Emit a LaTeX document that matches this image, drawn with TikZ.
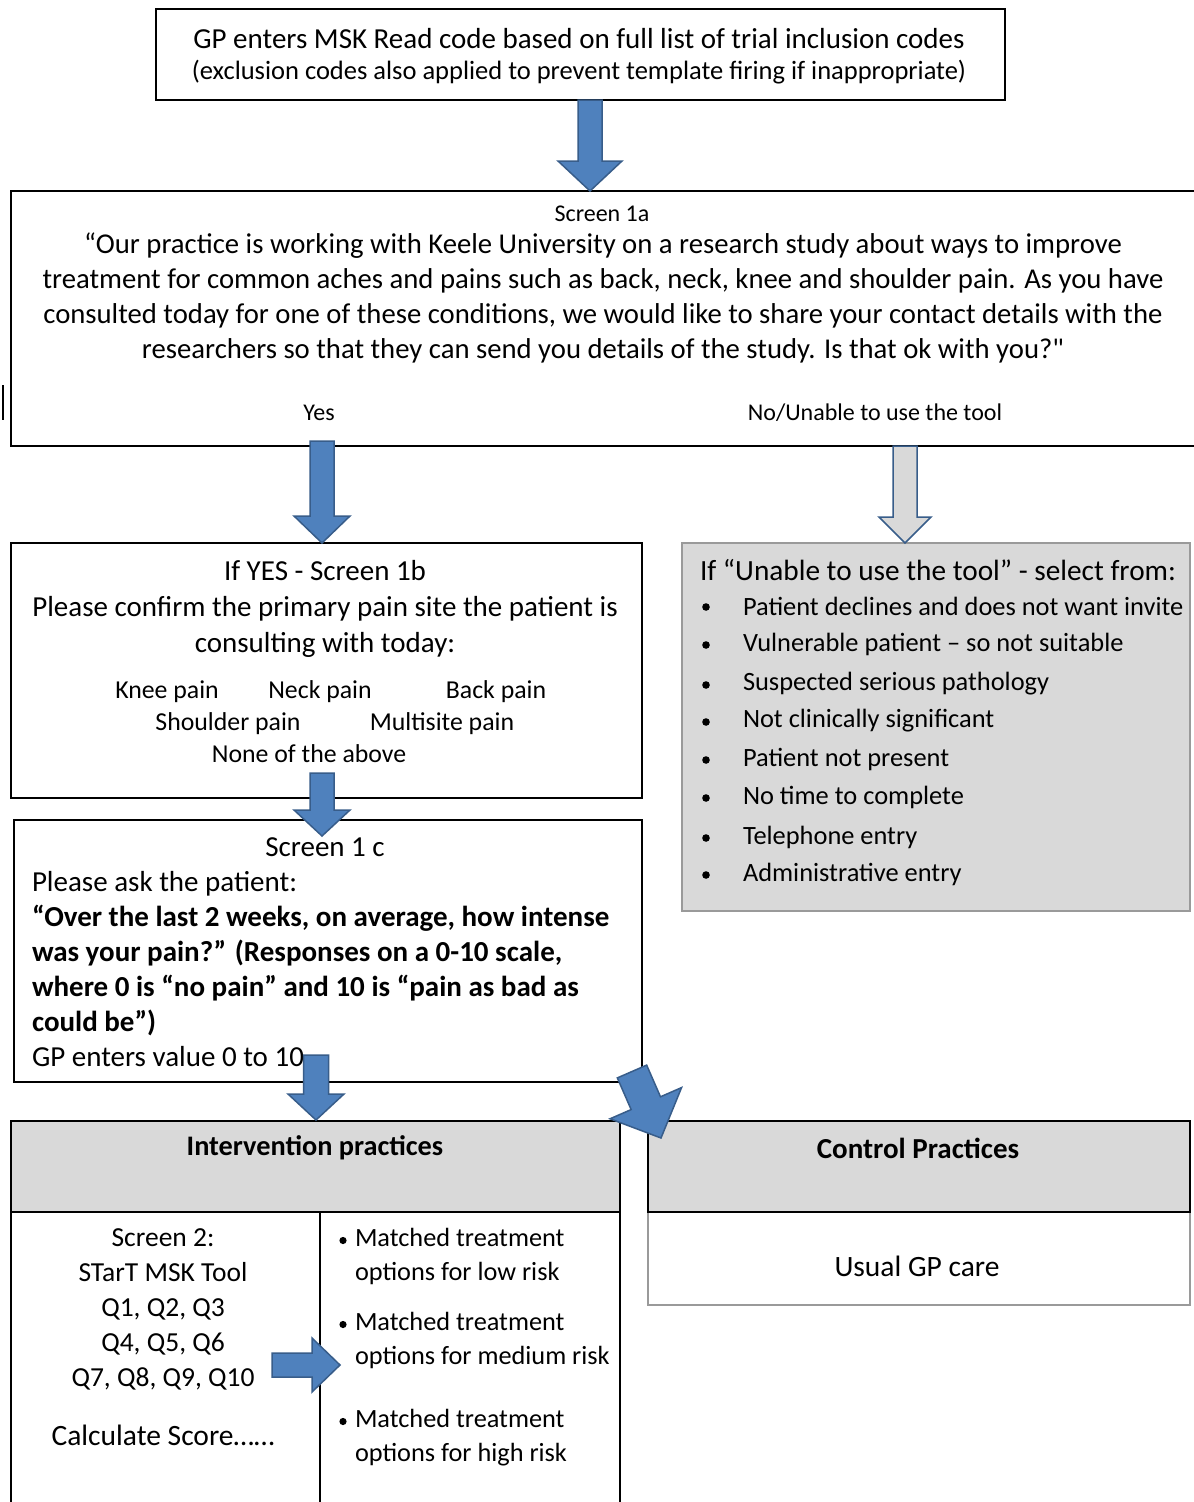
\documentclass[tikz,border=0pt]{standalone}
\usepackage{fontspec}
\setmainfont{Carlito}
\usetikzlibrary{calc}
\definecolor{ablue}{HTML}{4F81BD}
\definecolor{adark}{HTML}{385D8A}
\definecolor{lgray}{HTML}{D9D9D9}
\definecolor{bgray}{HTML}{9A9A9A}
\newcommand\fs[2]{\fontsize{#1}{#2}\selectfont}
% block arrow: style, from, to, shaft half width, head half width, head length
\newcommand\blockarr[6]{%
  \coordinate (ba-c) at ($(#3)!#6!(#2)$);
  \draw[#1] ($(#2)!#4!90:(#3)$) -- ($(ba-c)!#4!-90:(#2)$) -- ($(ba-c)!#5!-90:(#2)$)
    -- (#3) -- ($(ba-c)!#5!90:(#2)$) -- ($(ba-c)!#4!90:(#2)$) -- ($(#2)!#4!-90:(#3)$) -- cycle;
}
\begin{document}
\begin{tikzpicture}[x=1pt,y=-1pt,
  box/.style={draw=black, line width=2.2pt, inner sep=0pt, outer sep=0pt, rectangle},
  gbox/.style={box, draw=bgray, fill=lgray},
  hbox/.style={box, fill=lgray},
  txt/.style={inner sep=0pt, outer sep=0pt, align=center},
  ltxt/.style={inner sep=0pt, outer sep=0pt, align=left, anchor=west},
  barrow/.style={fill=ablue, draw=adark, line width=1.5pt, line join=miter},
  garrow/.style={fill=lgray, draw=adark, line width=1.5pt, line join=miter}]
\useasboundingbox (0,0) rectangle (1194,1502);
\clip (0,0) rectangle (1194,1502);
\fill[white] (0,0) rectangle (1194,1502);

% boxes
\node[box, line width=2.6pt, minimum width=849pt, minimum height=91pt] (top) at (580.5,54.5) {};
\node[box, minimum width=1194pt, minimum height=255pt] (s1a) at (608,318.5) {};
\node[box, minimum width=631pt, minimum height=255pt] (s1b) at (326.5,670.5) {};
\node[gbox, minimum width=508pt, minimum height=368pt] (unable) at (936,727) {};
\node[box, minimum width=628pt, minimum height=262pt] (s1c) at (328,951) {};
\node[box, minimum width=609pt, minimum height=298pt] (intbody) at (315.5,1361) {};
\node[hbox, minimum width=609pt, minimum height=91pt] (inthead) at (315.5,1166.5) {};
\node[box, draw=bgray, minimum width=542pt, minimum height=93pt] (ctrlbody) at (919,1258.5) {};
\node[hbox, minimum width=542pt, minimum height=91pt] (ctrlhead) at (919,1166.5) {};
\draw[line width=2.2pt] ($(intbody.north west)+(309,0)$) coordinate (divtop) -- ($(intbody.south west)+(309,0)$) coordinate (divbot);
\draw[line width=1.5pt] (3,385) -- (3,420);

% texts
\node[txt, font=\fs{29}{34}] (toptxt1) at (579,39) {GP enters MSK Read code based on full list of trial inclusion codes};
\node[txt, font=\fs{26.5}{34}] (toptxt2) at (579,72) {(exclusion codes also applied to prevent template firing if inappropriate)};
\node[txt, font=\fs{24}{24}] (s1alab) at (602,214) {Screen 1a};
\node[txt, font=\fs{28.7}{35}] (quote) at (603,298) {“Our practice is working with Keele University on a research study about ways to improve\\
treatment for common aches and pains such as back, neck, knee and shoulder pain. As you have\\
consulted today for one of these conditions, we would like to share your contact details with the\\
researchers so that they can send you details of the study. Is that ok with you?{\addfontfeature{Ligatures=TeXOff}"}};
\node[txt, font=\fs{24}{24}] (yes) at (319,413) {Yes};
\node[txt, font=\fs{24}{24}] (no) at (875,413) {No/Unable to use the tool};

\node[txt, font=\fs{29}{36}] (s1btxt) at (325,609) {If YES - Screen 1b\\Please confirm the primary pain site the patient is\\consulting with today:};
\node[txt, font=\fs{25.8}{30}] (knee) at (167,692) {Knee pain};
\node[txt, font=\fs{25.8}{30}] (neck) at (320,692) {Neck pain};
\node[txt, font=\fs{25.8}{30}] (back) at (496,692) {Back pain};
\node[txt, font=\fs{25.8}{30}] (shoulder) at (228,724) {Shoulder pain};
\node[txt, font=\fs{25.8}{30}] (multi) at (442,724) {Multisite pain};
\node[txt, font=\fs{25.8}{30}] (none) at (309,754) {None of the above};

\node[ltxt, font=\fs{29.3}{34}] (untitle) at (700,570) {If “Unable to use the tool” - select from:};
\foreach \t/\y [count=\i] in {Patient declines and does not want invite/606,
  Vulnerable patient – so not suitable/644, Suspected serious pathology/684,
  Not clinically significant/721, Patient not present/759, No time to complete/797,
  Telephone entry/837, Administrative entry/874}{
  \fill (706,\y+1) circle (3.8pt);
  \node[ltxt, font=\fs{26.4}{30}] (u\i) at (743,\y) {\t};
}

\node[txt, font=\fs{29}{35}] (s1clab) at (325,847) {Screen 1 c};
\node[ltxt, font=\fs{29}{35}] (s1ctxt) at (32,969) {Please ask the patient:\\
\textbf{“Over the last 2 weeks, on average, how intense}\\
\textbf{was your pain?” (Responses on a 0-10 scale,}\\
\textbf{where 0 is “no pain” and 10 is “pain as bad as}\\
\textbf{could be”)}\\
GP enters value 0 to 10};

\node[txt, font=\bfseries\fs{28.3}{30}] (intlab) at (315,1148) {Intervention practices};
\node[txt, font=\bfseries\fs{29}{30}] (ctrllab) at (918,1148) {Control Practices};
\node[txt, font=\fs{29.5}{30}] (usual) at (917,1266) {Usual GP care};

\node[txt, font=\fs{27.5}{35}] (tool) at (163,1309) {Screen 2:\\STarT MSK Tool\\Q1, Q2, Q3\\Q4, Q5, Q6\\Q7, Q8, Q9, Q10};
\node[txt, font=\fs{29.5}{35}] (calc) at (163,1435) {Calculate Score……};
\foreach \t/\y [count=\i] in {low risk/1256.5, medium risk/1340.5, high risk/1437.5}{
  \fill (343,\y-16) circle (3.6pt);
  \node[ltxt, font=\fs{26.3}{34}] (m\i) at (355,\y) {Matched treatment\\options for \t};
}

% block arrows
\coordinate (a1s) at ($(top.south)+(9.5,0)$);
\coordinate (a1e) at ($(s1a.north)+(-18,0)$);
\blockarr{barrow}{a1s}{a1e}{12pt}{32pt}{30pt}
\coordinate (a2s) at ($(s1a.south west)+(311,-5)$);
\coordinate (a2e) at ($(s1b.north west)+(311,0)$);
\blockarr{barrow}{a2s}{a2e}{12pt}{28pt}{27pt}
\coordinate (a3s) at ($(s1a.south west)+(894,0)$);
\coordinate (a3e) at ($(unable.north west)+(223,0)$);
\blockarr{garrow}{a3s}{a3e}{12pt}{26pt}{26pt}
\coordinate (a4s) at ($(s1b.south west)+(311,-25)$);
\coordinate (a4e) at ($(s1c.north west)+(308,16)$);
\blockarr{barrow}{a4s}{a4e}{12pt}{28pt}{26pt}
\coordinate (a5s) at ($(s1c.south west)+(302,-27)$);
\coordinate (a5e) at ($(inthead.north west)+(305,-1)$);
\blockarr{barrow}{a5s}{a5e}{12.5pt}{28pt}{26pt}
\coordinate (a6s) at ($(s1c.south east)+(-10,-10.5)$);
\coordinate (a6e) at ($(ctrlhead.north west)+(13,17)$);
\blockarr{barrow}{a6s}{a6e}{16pt}{39pt}{38pt}
\coordinate (a7s) at ($(divtop)+(-48,153)$);
\coordinate (a7e) at ($(divtop)+(20,153)$);
\blockarr{barrow}{a7s}{a7e}{12pt}{27pt}{28pt}
\end{tikzpicture}
\end{document}
